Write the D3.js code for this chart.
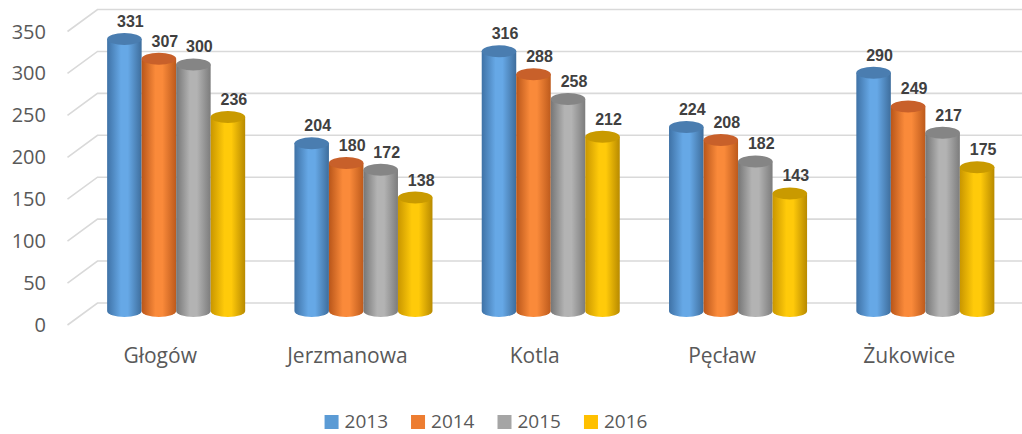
<!DOCTYPE html>
<html>
<head>
<meta charset="utf-8">
<script src="https://cdn.jsdelivr.net/npm/d3@7"></script>
<style>
  html, body { margin: 0; padding: 0; background: #fff; }
  svg { display: block; }
</style>
</head>
<body>
<svg id="plot"></svg>
<script>
const WIDTH = 1022;
const HEIGHT = 434;

// Data
const categories = ['Głogów', 'Jerzmanowa', 'Kotla', 'Pęcław', 'Żukowice'];
const years = ['2013', '2014', '2015', '2016'];
const values2013 = [331, 204, 316, 224, 290];
const values2014 = [307, 180, 288, 208, 249];
const values2015 = [300, 172, 258, 182, 217];
const values2016 = [236, 138, 212, 143, 175];
const yTicks = [0, 50, 100, 150, 200, 250, 300, 350];

const seriesValues = [values2013, values2014, values2015, values2016];

// cylinder shading per year: [dark left, light, dark right, top]
const palette = {
    '2013': { legend: '#5B9BD5', left: '#3F72A6', mid: '#66A8E6', right: '#3E6D9C', top: '#4A7DB0' },
    '2014': { legend: '#ED7D31', left: '#B9561A', mid: '#FA8A3A', right: '#BD5A1C', top: '#C8602A' },
    '2015': { legend: '#A5A5A5', left: '#767676', mid: '#B3B3B3', right: '#7C7C7C', top: '#858585' },
    '2016': { legend: '#FFC000', left: '#C99600', mid: '#FFCA0A', right: '#B88A00', top: '#C99A00' },
};

function start() {
    let svg = d3.select('#plot')
        .attr('width', WIDTH)
        .attr('height', HEIGHT);

    // gradients
    let defs = svg.append('defs');
    years.forEach(y => {
        let g = defs.append('linearGradient')
            .attr('id', 'body' + y)
            .attr('x1', '0%').attr('x2', '100%')
            .attr('y1', '0%').attr('y2', '0%');
        g.append('stop').attr('offset', '0%').attr('stop-color', palette[y].left);
        g.append('stop').attr('offset', '40%').attr('stop-color', palette[y].mid);
        g.append('stop').attr('offset', '60%').attr('stop-color', palette[y].mid);
        g.append('stop').attr('offset', '100%').attr('stop-color', palette[y].right);
    });

    // back wall scale and bar scale (bars stand a bit in front of the wall)
    let yBack = d3.scaleLinear().domain([0, 350]).range([303, 9.5]);
    let yBar = d3.scaleLinear().domain([0, 350]).range([311, 23.4]);
    const depthX = -30, depthY = 22;
    const wallLeft = 97.5;

    let x0 = d3.scaleBand()
        .domain(categories)
        .range([82.5, 1019])
        .paddingInner(0.263)
        .paddingOuter(0.1315);
    let x1 = d3.scaleBand()
        .domain(years)
        .range([0, x0.bandwidth()]);

    // gridlines: back wall + floor diagonal
    let grid = svg.append('g')
        .attr('stroke', '#D9D9D9')
        .attr('stroke-width', 1.6)
        .attr('fill', 'none');
    grid.selectAll('path')
        .data(yTicks)
        .enter().append('path')
            .attr('d', d => `M${wallLeft + depthX},${yBack(d) + depthY} L${wallLeft},${yBack(d)} L${WIDTH},${yBack(d)}`);

    // y tick labels
    svg.append('g')
        .selectAll('text')
        .data(yTicks)
        .enter().append('text')
            .attr('x', 46)
            .attr('y', d => yBack(d) + depthY + 7)
            .attr('text-anchor', 'end')
            .attr('font-family', 'Open Sans')
            .attr('font-size', 20)
            .attr('fill', '#595959')
            .text(d => d);

    // cylinders
    const ry = 6;
    let bars = [];
    categories.forEach((c, ci) => {
        years.forEach((y, si) => {
            bars.push({ cat: c, year: y, value: seriesValues[si][ci] });
        });
    });

    let barG = svg.append('g')
        .selectAll('g')
        .data(bars)
        .enter().append('g');

    barG.append('path')
        .attr('fill', d => `url(#body${d.year})`)
        .attr('d', d => {
            let xa = x0(d.cat) + x1(d.year);
            let xb = xa + x1.bandwidth();
            let rx = x1.bandwidth() / 2;
            let t = yBar(d.value), b = yBar(0);
            return `M${xa},${t} V${b} A${rx},${ry} 0 0 0 ${xb},${b} V${t} Z`;
        });

    barG.append('ellipse')
        .attr('cx', d => x0(d.cat) + x1(d.year) + x1.bandwidth() / 2)
        .attr('cy', d => yBar(d.value))
        .attr('rx', x1.bandwidth() / 2)
        .attr('ry', ry)
        .attr('fill', d => palette[d.year].top);

    // data labels
    svg.append('g')
        .selectAll('text')
        .data(bars)
        .enter().append('text')
            .attr('x', d => x0(d.cat) + x1(d.year) + x1.bandwidth() / 2 + 6)
            .attr('y', d => yBar(d.value) - 12)
            .attr('text-anchor', 'middle')
            .attr('font-family', 'Liberation Sans, Arial, sans-serif')
            .attr('font-weight', 'bold')
            .attr('font-size', 16)
            .attr('fill', '#404040')
            .text(d => d.value);

    // category labels (front plane)
    svg.append('g')
        .selectAll('text')
        .data(categories)
        .enter().append('text')
            .attr('x', d => x0(d) + x0.bandwidth() / 2 - 16)
            .attr('y', 363)
            .attr('text-anchor', 'middle')
            .attr('font-family', 'Open Sans')
            .attr('font-size', 21)
            .attr('fill', '#595959')
            .text(d => d);

    // legend
    let legend = svg.append('g');
    let lx = 0;
    years.forEach(y => {
        let item = legend.append('g').attr('transform', `translate(${lx},0)`);
        item.append('rect')
            .attr('x', 0).attr('y', 415)
            .attr('width', 14).attr('height', 14)
            .attr('fill', palette[y].legend);
        let t = item.append('text')
            .attr('x', 20).attr('y', 428)
            .attr('font-family', 'Open Sans')
            .attr('font-size', 19)
            .attr('fill', '#595959')
            .text(y);
        lx += 20 + t.node().getComputedTextLength() + 23;
    });
    let legendW = lx - 23;
    legend.attr('transform', `translate(${486 - legendW / 2},0)`);
}

window.onload = start;
</script>
</body>
</html>
